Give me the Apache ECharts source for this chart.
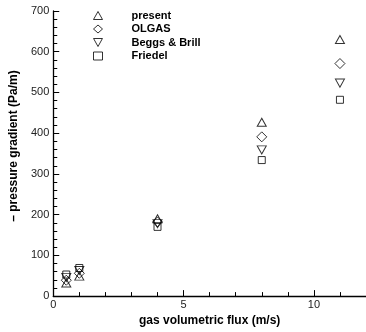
<!DOCTYPE html>
<html>
<head>
<meta charset="utf-8">
<script src="https://cdn.jsdelivr.net/npm/echarts@6/dist/echarts.min.js"></script>
<style>
  html, body { margin: 0; padding: 0; background: #fff; }
  #chart { width: 366px; height: 332px; }
</style>
</head>
<body>
<div id="chart"></div>
<script>
// Gas volumetric flux (m/s) at each measured condition
const gasFlux = [0.5, 1, 4, 8, 11];

// Pressure gradient (Pa/m) predicted by each model
const present = [32, 49, 190, 427, 630];
const olgas = [39, 56, 182, 391, 571];
const beggsBrill = [46, 63, 178, 359, 523];
const friedel = [53, 69, 170, 334, 482];

const seriesNames = ['present', 'OLGAS', 'Beggs & Brill', 'Friedel'];
const seriesValues = [present, olgas, beggsBrill, friedel];
const seriesSymbols = ['triangle', 'diamond', 'path://M0,0L10,0L5,9Z', 'rect'];
const seriesSizes = [[9, 8], 10, [9, 8], 7];

const hollow = { color: 'rgba(0,0,0,0)', borderColor: '#000', borderWidth: 1 };
const font = 'Liberation Sans, Arial, sans-serif';

const chart = echarts.init(document.getElementById('chart'), null, { renderer: 'canvas' });

chart.setOption({
  animation: false,
  backgroundColor: '#fff',
  grid: { left: 49.5, right: -1, top: 11, bottom: 32.5, containLabel: false },
  legend: {
    orient: 'vertical',
    left: 93,
    top: 10,
    padding: 0,
    itemWidth: 9,
    itemHeight: 8,
    itemGap: 2.5,
    data: seriesNames.map((n, i) => ({ name: n, icon: seriesSymbols[i] })),
    textStyle: {
      fontFamily: font,
      fontWeight: 'bold',
      fontSize: 11,
      lineHeight: 10,
      color: '#000',
      padding: [0, 0, 0, 24]
    },
    itemStyle: hollow
  },
  xAxis: {
    type: 'value',
    min: 0,
    max: 12,
    interval: 5,
    name: 'gas volumetric flux (m/s)',
    nameLocation: 'middle',
    nameGap: 15,
    nameTextStyle: { fontFamily: font, fontWeight: 'bold', fontSize: 12, color: '#000' },
    axisLine: { show: true, lineStyle: { color: '#000', width: 1.3 } },
    axisTick: { show: true, inside: true, length: 6, lineStyle: { color: '#000', width: 1 } },
    minorTick: { show: true, splitNumber: 5, length: 4, lineStyle: { color: '#000', width: 1 } },
    splitLine: { show: false },
    axisLabel: { margin: 3, fontFamily: font, fontSize: 11, color: '#222', showMaxLabel: false }
  },
  yAxis: {
    type: 'value',
    min: 0,
    max: 700,
    interval: 100,
    name: '\u2013 pressure gradient (Pa/m)',
    nameLocation: 'middle',
    nameGap: 33,
    nameTextStyle: { fontFamily: font, fontWeight: 'bold', fontSize: 12, color: '#000', padding: [0, 0, 0, 15] },
    axisLine: { show: true, lineStyle: { color: '#000', width: 1.3 } },
    axisTick: { show: true, inside: true, length: 6, lineStyle: { color: '#000', width: 1 } },
    minorTick: { show: true, splitNumber: 5, length: 4, lineStyle: { color: '#000', width: 1 } },
    splitLine: { show: false },
    axisLabel: { margin: 4, fontFamily: font, fontSize: 11, color: '#222' }
  },
  series: seriesNames.map((name, i) => ({
    name: name,
    type: 'scatter',
    symbol: seriesSymbols[i],
    symbolSize: seriesSizes[i],
    itemStyle: hollow,
    data: gasFlux.map((x, j) => [x, seriesValues[i][j]])
  }))
});
</script>
</body>
</html>
